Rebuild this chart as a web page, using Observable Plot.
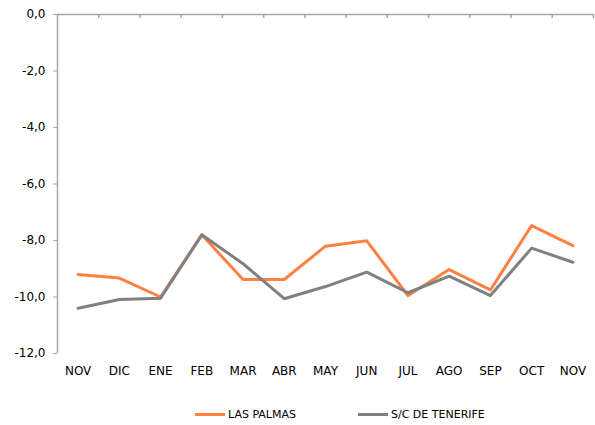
<!DOCTYPE html>
<html>
<head>
<meta charset="utf-8">
<script src="https://cdn.jsdelivr.net/npm/d3@7"></script>
<script src="https://cdn.jsdelivr.net/npm/@observablehq/plot@0.6"></script>
<style>
  body { margin: 0; background: #fff; font-family: "DejaVu Sans", Verdana, sans-serif; }
  #wrap { width: 595px; }
  #legend { position: relative; width: 595px; height: 30px; font-size: 11px; color: #000; }
  .item { position: absolute; top: 12px; display: flex; align-items: center; height: 14px; }
  .sw { display: inline-block; width: 30px; height: 3px; margin-right: 3px; }
</style>
</head>
<body>
<div id="wrap"></div>
<script>
const months = ["NOV","DIC","ENE","FEB","MAR","ABR","MAY","JUN","JUL","AGO","SEP","OCT","NOV"];
const lasPalmas = [-9.20,-9.33,-10.00,-7.80,-9.38,-9.38,-8.20,-8.01,-9.95,-9.03,-9.75,-7.47,-8.18];
const tenerife  = [-10.40,-10.09,-10.04,-7.80,-8.82,-10.06,-9.63,-9.12,-9.85,-9.26,-9.95,-8.27,-8.77];
const seriesNames = ["LAS PALMAS","S/C DE TENERIFE"];
const colors = ["#ff8040","#808080"];
const yTicks = [0,-2,-4,-6,-8,-10,-12];

const rows = [];
months.forEach((m,i) => {
  rows.push({i, v: lasPalmas[i], s: seriesNames[0]});
  rows.push({i, v: tenerife[i], s: seriesNames[1]});
});
const bounds = d3.range(months.length + 1).map(k => k - 0.5);
const axisColor = "#a6a6a6";
const H = 395;

const chart = Plot.plot({
  width: 595,
  height: H,
  marginLeft: 57,
  marginRight: 2,
  marginTop: 14,
  marginBottom: 42,
  style: { fontFamily: "DejaVu Sans, Verdana, sans-serif", fontSize: "12px", color: "#000", background: "#fff" },
  x: { type: "linear", domain: [-0.5, months.length - 0.5] },
  y: { domain: [-12, 0] },
  color: { domain: seriesNames, range: colors },
  marks: [
    Plot.ruleY([0], { stroke: axisColor, strokeWidth: 1.5 }),
    Plot.ruleX([-0.5], { y1: -12, y2: 0, stroke: axisColor, strokeWidth: 1.5 }),
    Plot.ruleX(bounds.slice(1), { y1: 0, y2: -12, stroke: axisColor, strokeWidth: 1.5, insetBottom: 335 }),
    Plot.axisY({ ticks: yTicks, tickSize: 4, tickPadding: 8, stroke: axisColor, tickFormat: d => d3.format(".1f")(d).replace("−", "-").replace(".", ","), fontSize: 12, label: null }),
    Plot.axisX({ ticks: d3.range(months.length), tickSize: 0, tickPadding: 13, tickFormat: i => months[i], fontSize: 12, label: null }),
    Plot.line(rows, { x: "i", y: "v", z: "s", stroke: "s", strokeWidth: 3, curve: "linear" })
  ]
});
document.getElementById("wrap").appendChild(chart);

const legend = document.createElement("div");
legend.id = "legend";
const lefts = [195, 358];
seriesNames.forEach((n, k) => {
  const it = document.createElement("div");
  it.className = "item";
  it.style.left = lefts[k] + "px";
  const sw = document.createElement("span");
  sw.className = "sw";
  sw.style.background = colors[k];
  const tx = document.createElement("span");
  tx.textContent = n;
  it.appendChild(sw);
  it.appendChild(tx);
  legend.appendChild(it);
});
document.getElementById("wrap").appendChild(legend);
</script>
</body>
</html>
